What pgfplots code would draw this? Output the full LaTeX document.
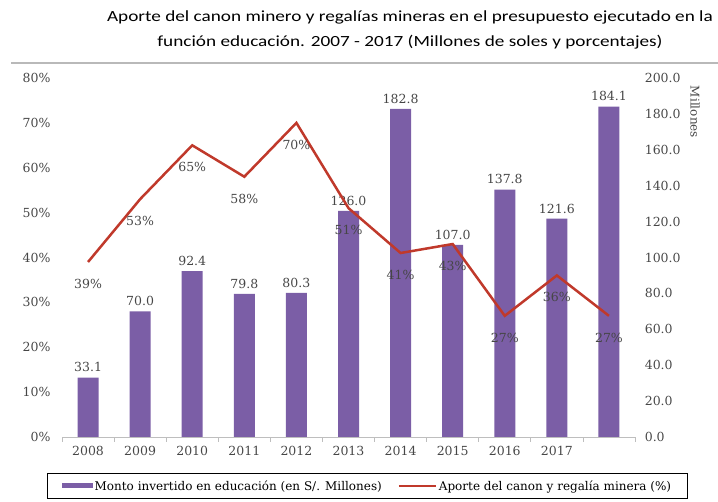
\documentclass[border=0pt]{standalone}
\usepackage{graphicx}
\usepackage{pgfplots}
\pgfplotsset{compat=1.18}
\usepackage{fontspec}
\setmainfont{DejaVu Serif}
\newfontfamily\titlefont{Carlito}
\definecolor{barpurple}{RGB}{123,94,166}
\definecolor{linered}{RGB}{192,57,43}
\definecolor{tickgray}{RGB}{70,70,70}
\definecolor{axisgray}{RGB}{190,190,190}
\begin{document}
\begin{tikzpicture}[x=1pt,y=1pt]
\useasboundingbox (0,0) rectangle (718,502);
\node[font=\titlefont\fontsize{15.5}{25}\selectfont, align=center, text=black] at (410,472) {\scalebox{1.24}[1]{Aporte del canon minero y regalías mineras en el presupuesto ejecutado en la}\\\scalebox{1.24}[1]{función educación. 2007 - 2017 (Millones de soles y porcentajes)}};
\draw[gray!55, line width=2pt] (11,439) -- (718,439);
\node[rotate=-90, font=\fontsize{12}{14}\selectfont, text=tickgray] at (695,390) {Millones};

\begin{axis}[
  at={(62pt,65pt)}, anchor=south west, scale only axis,
  width=573pt, height=359pt,
  xmin=-0.5, xmax=10.5, ymin=0, ymax=200,
  axis x line*=bottom, axis y line*=right,
  x axis line style={draw=axisgray, line width=0.8pt},
  y axis line style={draw=none},
  ybar, bar width=21pt, bar shift=0pt,
  xtick={0,...,9}, xticklabels={2008,2009,2010,2011,2012,2013,2014,2015,2016,2017},
  major x tick style={draw=none},
  minor xtick={-0.5,0.5,...,10.5},
  minor x tick style={draw=axisgray, line width=0.8pt},
  minor tick length=5pt,
  tick align=outside,
  ytick={0,20,...,200}, major y tick style={draw=none},
  /pgf/number format/assume math mode=true,
  y tick label style={/pgf/number format/fixed, /pgf/number format/fixed zerofill, /pgf/number format/precision=1, anchor=west, xshift=2pt},
  tick label style={font=\fontsize{12.5}{14}\selectfont, text=tickgray},
  x tick label style={yshift=-1pt},
  nodes near coords={\pgfmathprintnumber[fixed,fixed zerofill,precision=1]{\pgfplotspointmeta}},
  every node near coord/.append style={font=\fontsize{12.5}{14}\selectfont, text=tickgray, yshift=2pt},
  legend style={at={(0.533,-0.1365)}, anchor=center, draw=black, line width=1pt,
    font=\fontsize{12}{14}\selectfont, legend columns=2,
    /tikz/every even column/.append style={column sep=14pt},
    inner ysep=5pt, inner xsep=14pt},
  legend cell align=left,
]
\addplot[fill=barpurple, draw=none,
  legend image code/.code={\fill[barpurple] (-8pt,-2.5pt) rectangle (23pt,2.5pt);}]
  coordinates {(0,33.1) (1,70.0) (2,92.4) (3,79.8) (4,80.3) (5,126.0) (6,182.8) (7,107.0) (8,137.8) (9,121.6) (10,184.1)};
\addlegendentry{Monto invertido en educación (en S/. Millones)}
\addlegendimage{linered, line width=2pt, legend image code/.code={\draw[linered, line width=2pt] (-14pt,0pt) -- (23pt,0pt);}}
\addlegendentry{Aporte del canon y regalía minera (\%)}
\end{axis}

\begin{axis}[
  at={(62pt,65pt)}, anchor=south west, scale only axis,
  width=573pt, height=359pt,
  xmin=-0.5, xmax=10.5, ymin=0, ymax=80,
  hide x axis, axis y line*=left,
  y axis line style={draw=none},
  ytick={0,10,...,80}, major y tick style={draw=none},
  /pgf/number format/assume math mode=true,
  yticklabel={\pgfmathprintnumber{\tick}\%},
  tick label style={font=\fontsize{12.5}{14}\selectfont, text=tickgray},
  y tick label style={xshift=-8pt},
  nodes near coords={\pgfmathprintnumber{\pgfplotspointmeta}\%},
  every node near coord/.append style={font=\fontsize{12.5}{14}\selectfont, text=tickgray, anchor=center, yshift=-22pt},
]
\addplot[linered, line width=2.5pt, mark=none]
  coordinates {(0,39) (1,53) (2,65) (3,58) (4,70) (5,51) (6,41) (7,43) (8,27) (9,36) (10,27)};
\end{axis}
\end{tikzpicture}
\end{document}
